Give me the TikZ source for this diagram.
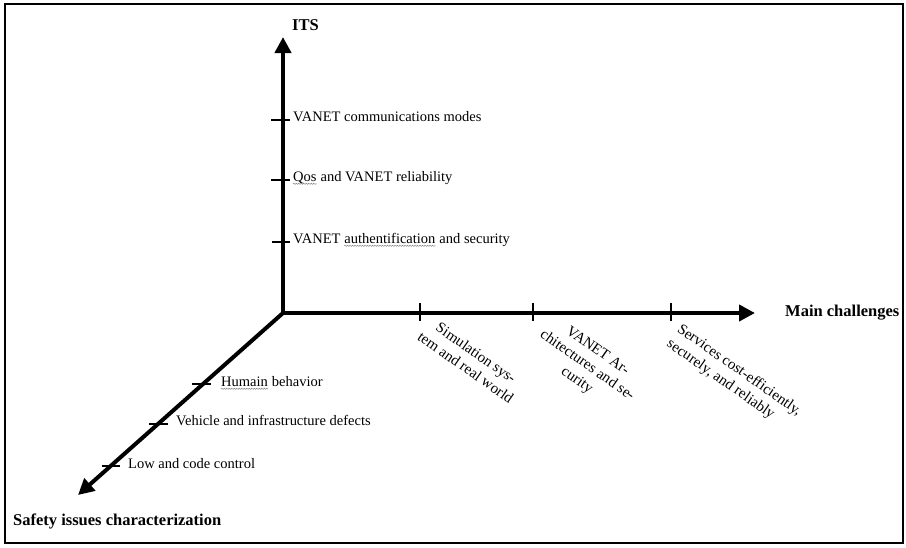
\documentclass[tikz,border=0pt]{standalone}
\usepackage{fontspec}
\setmainfont{Liberation Serif}
\usetikzlibrary{arrows.meta,decorations.pathmorphing}
\begin{document}
\begin{tikzpicture}[x=1pt,y=-1pt,
 axis/.style={line width=4pt,-{Triangle[length=16pt,width=16pt]}},
 tickmark/.style={line width=2.6pt},
 lbl/.style={inner sep=0pt,font=\fontsize{14.5}{16}\selectfont},
 rlbl/.style={inner sep=0pt,font=\fontsize{15}{18}\selectfont,rotate=-35},
 ttl/.style={inner sep=0pt,font=\fontsize{16.5}{18}\selectfont\bfseries},
 squig/.style={draw=gray,line width=0.5pt,decorate,decoration={snake,amplitude=0.6pt,segment length=2.5pt}}]
\useasboundingbox (0,0) rectangle (906,547);
\fill[white] (0,0) rectangle (906,547);
\draw[line width=2pt] (5,4) rectangle (903,543);
% axes
\coordinate (O) at (283,313);
\coordinate (Y) at (283,37);
\coordinate (X) at (755,313);
\coordinate (Z) at (78,495);
\draw[axis] (O) -- (Y);
\draw[axis] (O) -- (X);
\draw[axis] (O) -- (Z);
% titles
\node[ttl,anchor=west] (its) at (292,25) {ITS};
\node[ttl,anchor=west] (mc) at (785,313) {Main challenges};
\node[ttl,anchor=west] (sic) at (13,521) {Safety issues characterization};
% vertical ticks and labels
\draw[tickmark] (271,120) -- (290,120);
\draw[tickmark] (271,180) -- (290,180);
\draw[tickmark] (272,242) -- (290,242);
\node[lbl,anchor=mid west] (v1) at (293,119) {VANET communications modes};
\node[lbl,anchor=mid west] (q1) at (293,179) {Qos};
\node[lbl,anchor=base west] (q2) at ([xshift=3.6pt]q1.base east) {and VANET reliability};
\node[lbl,anchor=mid west] (a1) at (293,241) {VANET};
\node[lbl,anchor=base west] (a2) at ([xshift=3.6pt]a1.base east) {authentification};
\node[lbl,anchor=base west] (a3) at ([xshift=3.6pt]a2.base east) {and security};
\draw[squig] ([yshift=-2.5pt]q1.base west) -- ([yshift=-2.5pt]q1.base east);
\draw[squig] ([yshift=-2.5pt]a2.base west) -- ([yshift=-2.5pt]a2.base east);
% diagonal ticks and labels
\draw[tickmark] (192,384) -- (211,384);
\draw[tickmark] (149,424) -- (168,424);
\draw[tickmark] (102,466) -- (120,466);
\node[lbl,anchor=mid west] (h1) at (221,384) {Humain};
\node[lbl,anchor=base west] (h2) at ([xshift=3.6pt]h1.base east) {behavior};
\draw[squig] ([yshift=-2.5pt]h1.base west) -- ([yshift=-2.5pt]h1.base east);
\node[lbl,anchor=mid west] (vi) at (176,423) {Vehicle and infrastructure defects};
\node[lbl,anchor=mid west] (lo) at (128,466) {Low and code control};
% horizontal ticks and labels
\draw[tickmark] (420,303) -- (420,321);
\draw[tickmark] (533,303) -- (533,321);
\draw[tickmark] (671,303) -- (671,321);
\node[rlbl,align=center] (c1) at (471,360) {Simulation sys-\\tem and real world};
\node[rlbl,align=center] (c2) at (587,366) {VANET Ar-\\chitectures and se-\\curity};
\node[rlbl,align=left] (c3) at (734,378) {Services cost-efficiently,\\securely, and reliably};
\end{tikzpicture}
\end{document}
